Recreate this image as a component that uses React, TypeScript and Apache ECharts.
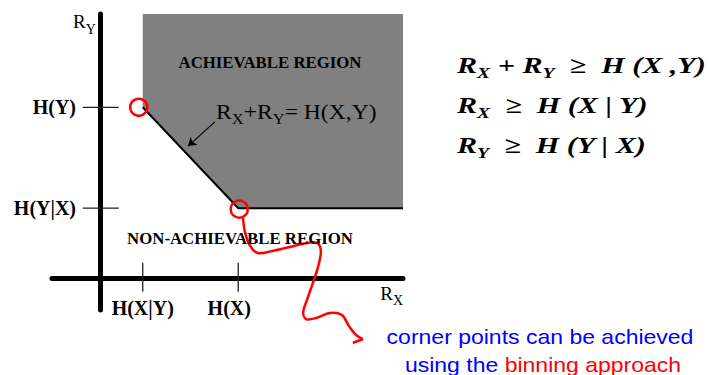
import React, { useEffect, useRef } from 'react';
import * as echarts from 'echarts';

// ---- data (rate units) ----
const xRange = [-1, 6.35];
const yRange = [-0.62, 5.25];
const HXgivenY = 0.9;
const HX = 2.9;
const HYgivenX = 1.4;
const HY = 3.4;
const xTickValues = [HXgivenY, HX];
const xTickLabels = ['H(X|Y)', 'H(X)'];
const yTickValues = [HYgivenX, HY];
const yTickLabels = ['H(Y|X)', 'H(Y)'];
const cornerPoints = [[HXgivenY, HY], [HX, HYgivenX]];
const pointerArrow = [[2.41, 3.11], [1.85, 2.63]];
const wavyArrow = [
  [3.0, 1.22], [3.04, 0.93], [3.15, 0.65], [3.31, 0.51], [3.61, 0.55], [3.98, 0.63],
  [4.34, 0.71], [4.55, 0.71], [4.63, 0.55], [4.57, 0.23], [4.46, -0.09], [4.34, -0.42],
  [4.26, -0.66], [4.32, -0.8], [4.53, -0.78], [4.82, -0.68], [5.07, -0.72], [5.22, -0.94],
  [5.37, -1.12], [5.51, -1.2],
];
const wavyArrowBarb = [[5.3, -1.27], [5.51, -1.2]];
const equationLines = [
  '{m|R}{s|X}{m| + R}{s|Y}{m|  ≥  H (X ,Y)}',
  '{m|R}{s|X}{m|  ≥  H (X | Y)}',
  '{m|R}{s|Y}{m|  ≥  H (Y | X)}',
];

const SERIF = 'Liberation Serif';
const SANS = 'Liberation Sans';

export default function App() {
  const ref = useRef<HTMLDivElement>(null);
  useEffect(() => {
    if (!ref.current) return;
    const chart = echarts.init(ref.current, null, { renderer: 'svg' });

    const regionVertices = [
      [HXgivenY, yRange[1]],
      [HXgivenY, HY],
      [HX, HYgivenX],
      [xRange[1], HYgivenX],
      [xRange[1], yRange[1]],
    ];
    const regionEdge = [[HXgivenY, HY], [HX, HYgivenX], [xRange[1], HYgivenX]];

    const labelBase = { fontSize: 20, fontWeight: 'bold', fontFamily: SERIF, color: '#000' };
    const nameRich = {
      r: { fontSize: 19, fontFamily: SERIF, color: '#000' },
      s: { fontSize: 14, fontFamily: SERIF, color: '#000', padding: [15, 0, 0, 0] },
    };

    const option: any = {
      animation: false,
      backgroundColor: '#fff',
      textStyle: { fontFamily: SERIF },
      grid: { left: 52, right: 306, top: 14, bottom: 65, containLabel: false, outerBoundsMode: 'none' },
      xAxis: {
        type: 'value',
        min: xRange[0],
        max: xRange[1],
        axisLine: { show: true, onZero: true, lineStyle: { color: '#000', width: 5 } },
        axisTick: { show: false },
        splitLine: { show: false },
        axisLabel: {
          show: true,
          customValues: xTickValues,
          margin: -12,
          ...labelBase,
          formatter: (v: number) => {
            const i = xTickValues.indexOf(v);
            const t = i >= 0 ? xTickLabels[i] : '';
            return i === 1 ? '{sh|' + t + '}' : t;
          },
          rich: { sh: { ...labelBase, padding: [0, 18, 0, 0] } },
        },
        name: '{r|R}{s|X}',
        nameLocation: 'end',
        nameGap: 0,
        nameMoveOverlap: false,
        nameTextStyle: { align: 'right', verticalAlign: 'top', rich: nameRich },
      },
      yAxis: {
        type: 'value',
        min: yRange[0],
        max: yRange[1],
        axisLine: { show: true, onZero: true, lineStyle: { color: '#000', width: 5 } },
        axisTick: { show: false },
        splitLine: { show: false },
        axisLabel: {
          show: true,
          customValues: yTickValues,
          margin: -24,
          ...labelBase,
          formatter: (v: number) => {
            const i = yTickValues.indexOf(v);
            return i >= 0 ? yTickLabels[i] : '';
          },
        },
        name: '{r|R}{s|Y}',
        nameLocation: 'end',
        nameGap: 7,
        nameMoveOverlap: false,
        nameTextStyle: { align: 'right', verticalAlign: 'top', padding: [0, 4, 0, 0], rich: nameRich },
      },
      series: [
        {
          type: 'custom',
          name: 'achievable region',
          coordinateSystem: 'cartesian2d',
          silent: true,
          z: 2,
          data: [cornerPoints[0]],
          renderItem: (_p: any, api: any) => ({
            type: 'group',
            children: [
              { type: 'polygon', shape: { points: regionVertices.map((p) => api.coord(p)) }, style: { fill: '#808080' } },
              {
                type: 'polyline',
                shape: { points: regionEdge.map((p) => api.coord(p)) },
                style: { stroke: '#000', lineWidth: 2, fill: null },
              },
            ],
          }),
        },
        {
          type: 'custom',
          name: 'x ticks',
          coordinateSystem: 'cartesian2d',
          silent: true,
          z: 3,
          data: xTickValues.map((v) => [v, 0]),
          renderItem: (_p: any, api: any) => {
            const c = api.coord([api.value(0), api.value(1)]);
            return {
              type: 'line',
              shape: { x1: c[0], y1: c[1] - 16, x2: c[0], y2: c[1] + 13 },
              style: { stroke: '#222', lineWidth: 1.3 },
            };
          },
        },
        {
          type: 'custom',
          name: 'y ticks',
          coordinateSystem: 'cartesian2d',
          silent: true,
          z: 3,
          data: yTickValues.map((v) => [0, v]),
          renderItem: (_p: any, api: any) => {
            const c = api.coord([api.value(0), api.value(1)]);
            return {
              type: 'line',
              shape: { x1: c[0] - 17, y1: c[1], x2: c[0] + 19, y2: c[1] },
              style: { stroke: '#222', lineWidth: 1.3 },
            };
          },
        },
        {
          type: 'lines',
          coordinateSystem: 'cartesian2d',
          silent: true,
          z: 4,
          symbol: ['none', 'arrow'],
          symbolSize: 8,
          lineStyle: { color: '#000', width: 1.2, opacity: 1, curveness: 0 },
          data: [{ coords: pointerArrow }],
        },
        {
          type: 'scatter',
          name: 'corner points',
          silent: true,
          z: 6,
          symbol: 'circle',
          symbolSize: 17,
          itemStyle: { color: 'rgba(0,0,0,0)', borderColor: '#ff0000', borderWidth: 2.5, opacity: 1 },
          data: [
            { value: cornerPoints[0], symbolOffset: [-4, 0] },
            { value: cornerPoints[1], symbolOffset: [1, 1] },
          ],
        },
        {
          type: 'custom',
          name: 'wavy arrow',
          coordinateSystem: 'cartesian2d',
          silent: true,
          clip: false,
          z: 10,
          data: [wavyArrow[0]],
          renderItem: (_p: any, api: any) => ({
            type: 'group',
            children: [
              {
                type: 'polyline',
                shape: { points: wavyArrow.map((p) => api.coord(p)), smooth: 0.35 },
                style: { stroke: '#ff0000', lineWidth: 2.5, fill: null },
              },
              {
                type: 'polyline',
                shape: { points: wavyArrowBarb.map((p) => api.coord(p)) },
                style: { stroke: '#ff0000', lineWidth: 2.5, fill: null },
              },
            ],
          }),
        },
      ],
      graphic: [
        {
          type: 'text',
          x: 270,
          y: 62,
          z: 20,
          style: {
            text: 'ACHIEVABLE REGION',
            fill: '#000',
            fontSize: 16.8,
            fontWeight: 'bold',
            fontFamily: SERIF,
            align: 'center',
            verticalAlign: 'middle',
          },
        },
        {
          type: 'text',
          x: 240,
          y: 238,
          z: 20,
          style: {
            text: 'NON-ACHIEVABLE REGION',
            fill: '#000',
            fontSize: 16.8,
            fontWeight: 'bold',
            fontFamily: SERIF,
            align: 'center',
            verticalAlign: 'middle',
          },
        },
        {
          type: 'text',
          x: 216,
          y: 112.5,
          z: 20,
          scaleX: 1.18,
          style: {
            text: '{m|R}{s|X}{m|+R}{s|Y}{m|= H(X,Y)}',
            fill: '#000',
            align: 'left',
            verticalAlign: 'middle',
            rich: {
              m: { fontSize: 20, fontFamily: SERIF, fill: '#000' },
              s: { fontSize: 14, fontFamily: SERIF, fill: '#000', padding: [12, 0, 0, 0] },
            },
          },
        },
        ...equationLines.map((t, i) => ({
          type: 'text',
          x: 457,
          y: 65.5 + i * 40,
          z: 20,
          scaleX: 1.31,
          style: {
            text: t,
            fill: '#000',
            align: 'left',
            verticalAlign: 'middle',
            rich: {
              m: { fontSize: 23, fontFamily: SERIF, fontWeight: 'bold', fontStyle: 'italic', fill: '#000' },
              s: {
                fontSize: 15,
                fontFamily: SERIF,
                fontWeight: 'bold',
                fontStyle: 'italic',
                fill: '#000',
                padding: [15, 0, 0, 0],
              },
            },
          },
        })),
        {
          type: 'text',
          x: 540,
          y: 337,
          z: 20,
          scaleX: 1.15,
          style: {
            text: 'corner points can be achieved',
            fill: '#0000ff',
            fontSize: 20,
            fontFamily: SANS,
            align: 'center',
            verticalAlign: 'middle',
          },
        },
        {
          type: 'text',
          x: 543,
          y: 365,
          z: 20,
          scaleX: 1.15,
          style: {
            text: '{b|using the }{r|binning approach}',
            align: 'center',
            verticalAlign: 'middle',
            rich: {
              b: { fontSize: 20, fontFamily: SANS, fill: '#0000ff' },
              r: { fontSize: 20, fontFamily: SANS, fill: '#ff0000' },
            },
          },
        },
      ],
    };

    chart.setOption(option);
    return () => chart.dispose();
  }, []);

  return (
    <div
      ref={ref}
      style={{ position: 'absolute', left: 0, top: 0, width: 709, height: 375, background: '#fff' }}
    />
  );
}
